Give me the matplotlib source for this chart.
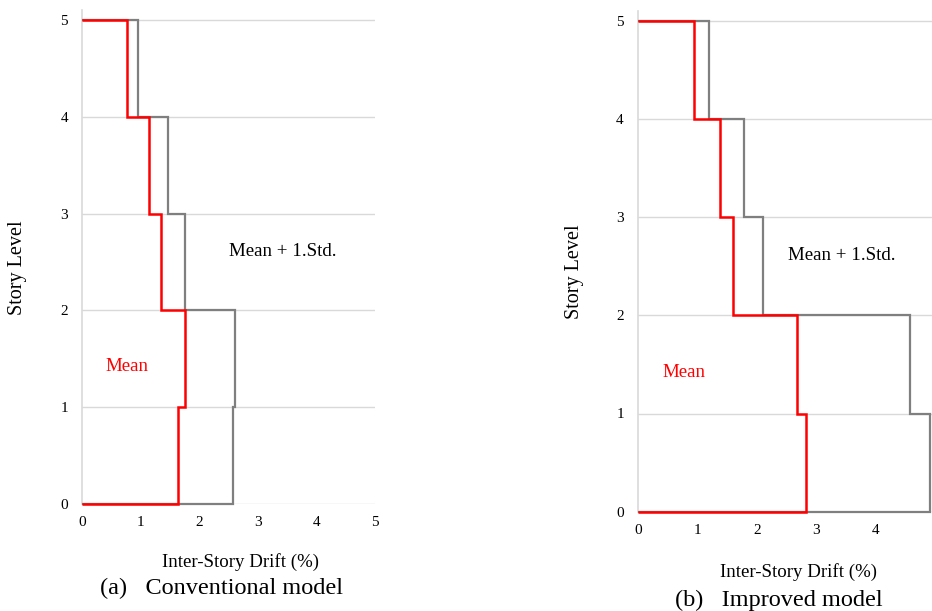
import matplotlib
matplotlib.use("Agg")
import matplotlib.pyplot as plt
import numpy as np

# Story levels (edges) and drift per story (story 1 .. story 5)
levels = [0, 1, 2, 3, 4, 5]
conv_mean = [1.64, 1.75, 1.35, 1.14, 0.76]
conv_mean_std = [2.58, 2.61, 1.75, 1.46, 0.96]
impr_mean = [2.82, 2.67, 1.60, 1.39, 0.95]
impr_mean_std = [4.90, 4.57, 2.11, 1.78, 1.20]
x_ticks = [0, 1, 2, 3, 4, 5]
y_ticks = [0, 1, 2, 3, 4, 5]

plt.rcParams['font.family'] = ['Liberation Serif', 'DejaVu Serif']

W, H = 932, 611
fig = plt.figure(figsize=(W / 100, H / 100), dpi=100)

GRID = '#d9d9d9'
GRAY = '#7f7f7f'
RED = '#ff0000'


def make_axes(x0, x5, y0, y5):
    ytop = 5.1
    unit_y = (y0 - y5) / 5.0
    top_px = y0 - ytop * unit_y
    left = x0 / W
    width = (x5 - x0) / W
    bottom = 1 - y0 / H
    height = (y0 - top_px) / H
    ax = fig.add_axes([left, bottom, width, height])
    ax.set_xlim(0, 5)
    ax.set_ylim(0, ytop)
    return ax


def style(ax):
    for s in ['top', 'right', 'bottom']:
        ax.spines[s].set_visible(False)
    ax.spines['left'].set_color(GRID)
    ax.spines['left'].set_linewidth(1.2)
    ax.set_xticks(x_ticks)
    ax.set_yticks(y_ticks)
    ax.tick_params(length=0, labelsize=11, colors='#000000')
    ax.tick_params(axis='y', pad=10)
    ax.tick_params(axis='x', pad=9)
    ax.grid(axis='y', color=GRID, linewidth=1.0)
    ax.set_axisbelow(True)


panels = [
    dict(x0=82, x5=375, y0=504, y5=20, mean=conv_mean, std=conv_mean_std,
         xl=(240, 562), cap=(222, 588), caption='(a)   Conventional model',
         yl=(18, 268)),
    dict(x0=637.7, x5=935.5, y0=511.7, y5=20.7, mean=impr_mean, std=impr_mean_std,
         xl=(798, 572), cap=(779, 600), caption='(b)   Improved model',
         yl=(575, 272)),
]

for p in panels:
    ax = make_axes(p['x0'], p['x5'], p['y0'], p['y5'])
    style(ax)
    ax.stairs(p['std'], levels, orientation='horizontal', baseline=0,
              color=GRAY, linewidth=1.6, zorder=3, clip_on=False)
    ax.stairs(p['mean'], levels, orientation='horizontal', baseline=0,
              color=RED, linewidth=1.8, zorder=4, clip_on=False)
    ax.text(3.43, 2.61, 'Mean + 1.Std.', fontsize=13.6, ha='center', va='center',
            color='#000000')
    ax.text(0.77, 1.42, 'Mean', fontsize=13.6, ha='center', va='center', color=RED)
    fig.text(p['xl'][0] / W, 1 - p['xl'][1] / H, 'Inter-Story Drift (%)',
             fontsize=13.6, ha='center', va='center')
    fig.text(p['cap'][0] / W, 1 - p['cap'][1] / H, p['caption'],
             fontsize=17.5, ha='center', va='center')
    fig.text(p['yl'][0] / W, 1 - p['yl'][1] / H, 'Story Level', fontsize=14.5,
             rotation=90, ha='center', va='center')

fig.savefig('out.png', dpi=100)
